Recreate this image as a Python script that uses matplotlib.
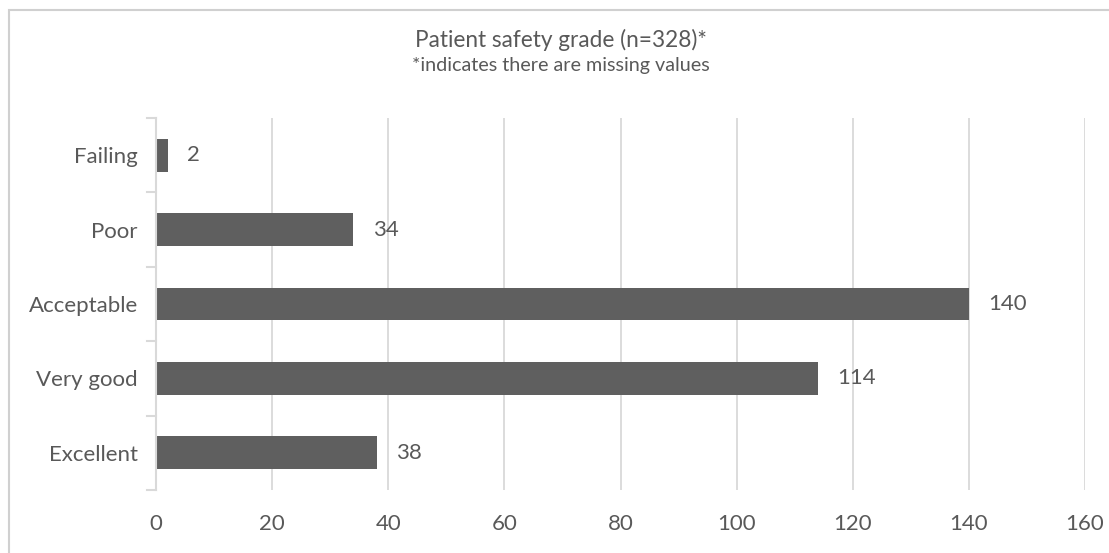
import matplotlib.pyplot as plt
from matplotlib.patches import Rectangle

categories = ['Excellent', 'Very good', 'Acceptable', 'Poor', 'Failing']
counts = [38, 114, 140, 34, 2]
x_ticks = [0, 20, 40, 60, 80, 100, 120, 140, 160]

text_col = '#595959'
bar_col = '#5f5f5f'
grid_col = '#d9d9d9'
plt.rcParams['font.family'] = ['Lato', 'DejaVu Sans']

W, H = 1109, 553
fig = plt.figure(figsize=(W / 100, H / 100), dpi=100)
ax = fig.add_axes([156 / W, 1 - 490 / H, (1085 - 156) / W, (490 - 118) / H])

# outer chart frame (runs off the right and bottom edges)
fig.patches.append(Rectangle((9 / W, -0.1), 1.2, 1 - 10 / H + 0.1,
                             transform=fig.transFigure, fill=False,
                             edgecolor='#d0d0d0', linewidth=1.5))

y = list(range(len(categories)))
ax.barh(y, counts, height=0.44, color=bar_col, zorder=3)
for yi, v in zip(y, counts):
    ax.annotate(str(v), (v, yi), xytext=(14, 0), textcoords='offset points',
                va='center', ha='left', fontsize=16, color=text_col)

ax.set_xlim(0, 160)
ax.set_ylim(-0.5, len(categories) - 0.5)
ax.set_xticks(x_ticks)
ax.set_xticklabels([str(t) for t in x_ticks], fontsize=16, color=text_col)
ax.set_yticks(y)
ax.set_yticklabels(categories, fontsize=16, color=text_col)
ax.tick_params(axis='x', length=0, pad=17)
ax.tick_params(axis='y', length=0, pad=13)

# category boundary ticks on the left axis
for b in [i - 0.5 for i in range(len(categories) + 1)]:
    ax.plot([-9 / 929, 0], [b, b], transform=ax.get_yaxis_transform(),
            color=grid_col, linewidth=1.5, clip_on=False)

ax.grid(axis='x', color=grid_col, linewidth=1.3, zorder=0)
for s in ['top', 'right', 'bottom']:
    ax.spines[s].set_visible(False)
ax.spines['left'].set_color(grid_col)
ax.spines['left'].set_linewidth(1.5)
ax.spines['left'].set_zorder(4)

fig.text(0.506, 1 - 40 / H, 'Patient safety grade (n=328)*', ha='center', va='center',
         fontsize=16.3, color=text_col)
fig.text(0.506, 1 - 66 / H, '*indicates there are missing values', ha='center', va='center',
         fontsize=14.2, color=text_col)

fig.savefig('out.png', dpi=100, facecolor='white')
